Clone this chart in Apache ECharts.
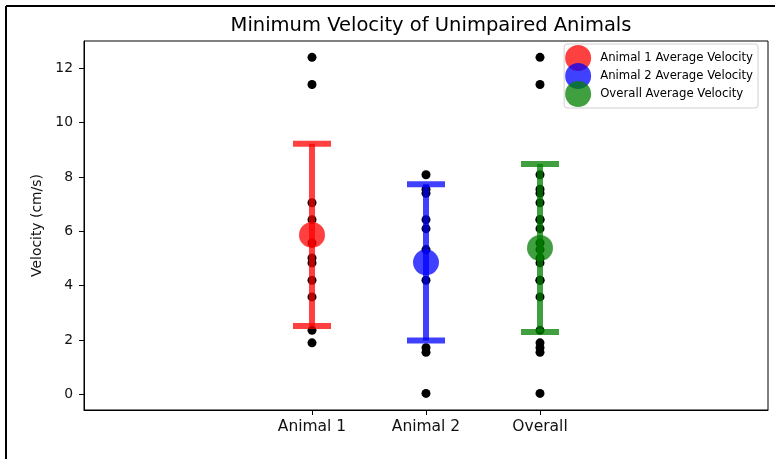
<!DOCTYPE html>
<html>
<head>
<meta charset="utf-8">
<script src="https://cdn.jsdelivr.net/npm/echarts@6/dist/echarts.min.js"></script>
<style>
  html, body { margin: 0; padding: 0; background: #fff; }
  #chart { width: 775px; height: 459px; }
</style>
</head>
<body>
<div id="chart"></div>
<script>
// Groups along the x axis and where they sit on it
const categories = ['Animal 1', 'Animal 2', 'Overall'];
const positions = [1, 2, 3];

// Individual minimum velocities (cm/s)
const animal1Values = [12.4, 11.4, 7.05, 6.43, 5.57, 5.02, 4.84, 4.2, 3.59, 2.36, 1.9];
const animal2Values = [8.08, 7.55, 7.4, 6.43, 6.1, 5.33, 4.2, 1.72, 1.55, 0.04];
const overallValues = [12.4, 11.4, 8.08, 7.55, 7.4, 7.05, 6.43, 6.43, 6.1, 5.57, 5.33,
                       5.02, 4.84, 4.2, 4.2, 3.59, 2.36, 1.9, 1.72, 1.55, 0.04];

// Averages and their error-bar half widths (cm/s)
const averages = [5.87, 4.86, 5.39];
const errors = [3.35, 2.87, 3.09];

const legendNames = ['Animal 1 Average Velocity', 'Animal 2 Average Velocity', 'Overall Average Velocity'];
const colors = ['#ff0000', '#0000ff', '#008000'];
const yTicks = [0, 2, 4, 6, 8, 10, 12];

const groups = [animal1Values, animal2Values, overallValues];
const font = 'DejaVu Sans';

const series = [];

// Raw observations as black dots
groups.forEach((vals, i) => {
  series.push({
    type: 'scatter',
    name: 'points' + i,
    data: vals.map(v => [positions[i], v]),
    symbol: 'circle',
    symbolSize: 9,
    itemStyle: { color: '#000', opacity: 1 },
    z: 2,
    silent: true
  });
});

// Error bars with caps
groups.forEach((vals, i) => {
  series.push({
    type: 'custom',
    name: 'err' + i,
    data: [[positions[i], averages[i] - errors[i], averages[i] + errors[i]]],
    z: 3,
    silent: true,
    renderItem: function (params, api) {
      const x = api.value(0);
      const top = api.coord([x, api.value(2)]);
      const bot = api.coord([x, api.value(1)]);
      const half = 19;
      const st = { stroke: colors[i], lineWidth: 6, opacity: 0.75 };
      return {
        type: 'group',
        children: [
          { type: 'line', shape: { x1: top[0], y1: top[1], x2: bot[0], y2: bot[1] }, style: st },
          { type: 'line', shape: { x1: top[0] - half, y1: top[1], x2: top[0] + half, y2: top[1] }, style: st },
          { type: 'line', shape: { x1: bot[0] - half, y1: bot[1], x2: bot[0] + half, y2: bot[1] }, style: st }
        ]
      };
    }
  });
});

// Average markers
averages.forEach((m, i) => {
  series.push({
    type: 'scatter',
    name: legendNames[i],
    data: [[positions[i], m]],
    symbol: 'circle',
    symbolSize: 26,
    itemStyle: { color: colors[i], opacity: 0.75 },
    z: 4,
    silent: true
  });
});

const chart = echarts.init(document.getElementById('chart'), null, { renderer: 'canvas' });
chart.setOption({
  animation: false,
  backgroundColor: '#fff',
  title: {
    text: 'Minimum Velocity of Unimpaired Animals',
    left: 426,
    textAlign: 'center',
    top: 11,
    textStyle: { fontFamily: font, fontSize: 19.5, fontWeight: 'normal', color: '#000' }
  },
  grid: { left: 84, right: 7, top: 41, bottom: 49, show: true, borderColor: '#000', borderWidth: 1, outerBoundsMode: 'none' },
  legend: {
    orient: 'vertical',
    right: 17,
    top: 44,
    padding: [1, 5, 1, 1],
    itemWidth: 34,
    itemHeight: 26,
    itemGap: -8,
    icon: 'circle',
    borderColor: '#d0d0d0',
    borderWidth: 1,
    borderRadius: 3,
    selectedMode: false,
    textStyle: { fontFamily: font, fontSize: 11.7, color: '#000' },
    data: legendNames.map((n, i) => ({ name: n, itemStyle: { color: colors[i], opacity: 0.75 } }))
  },
  xAxis: {
    type: 'value',
    min: -1,
    max: 5,
    splitLine: { show: false },
    axisLine: { show: true, onZero: false, lineStyle: { color: '#000', width: 1 } },
    axisTick: { show: true, length: 5, lineStyle: { color: '#000' }, customValues: positions },
    axisLabel: {
      customValues: positions,
      formatter: v => categories[positions.indexOf(v)] || '',
      fontFamily: font, fontSize: 15.5, color: '#111', margin: 9
    }
  },
  yAxis: {
    type: 'value',
    min: -0.57,
    max: 13.0,
    name: 'Velocity (cm/s)',
    nameLocation: 'middle',
    nameGap: 40,
    nameTextStyle: { fontFamily: font, fontSize: 13.9, color: '#111' },
    splitLine: { show: false },
    axisLine: { show: true, onZero: false, lineStyle: { color: '#000', width: 1 } },
    axisTick: { show: true, length: 5, lineStyle: { color: '#000' }, customValues: yTicks },
    axisLabel: {
      customValues: yTicks,
      fontFamily: font, fontSize: 13.9, color: '#111', margin: 11
    }
  },
  graphic: [
    { type: 'line', shape: { x1: 6, y1: 6, x2: 775, y2: 6 }, style: { stroke: '#000', lineWidth: 2 } },
    { type: 'line', shape: { x1: 6, y1: 6, x2: 6, y2: 459 }, style: { stroke: '#000', lineWidth: 2 } }
  ],
  series: series
});
</script>
</body>
</html>
